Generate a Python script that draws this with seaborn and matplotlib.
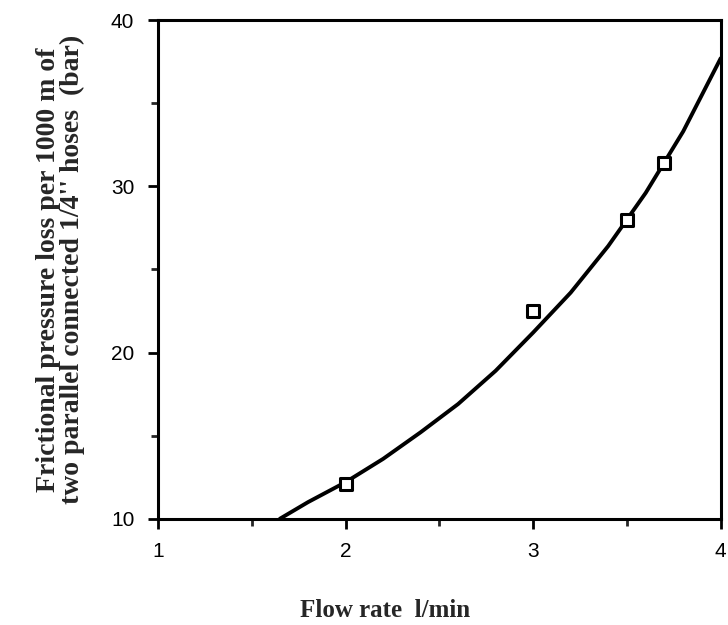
import numpy as np
import pandas as pd
import matplotlib
matplotlib.use("Agg")
import matplotlib.pyplot as plt
import seaborn as sns
from matplotlib.ticker import MultipleLocator

# fitted curve
curve_x = [1.65, 1.8, 2.0, 2.2, 2.4, 2.6, 2.8, 3.0, 3.2, 3.4, 3.6, 3.8, 4.0]
curve_y = [10.0, 11.0, 12.2, 13.6, 15.2, 16.9, 18.9, 21.2, 23.6, 26.4, 29.6, 33.3, 37.7]

# measured points
meas_x = [2.0, 3.0, 3.5, 3.7]
meas_y = [12.1, 22.5, 28.0, 31.4]

xticks = [1, 2, 3, 4]
yticks = [10, 20, 30, 40]

sns.set_style("ticks")
plt.rcParams['font.family'] = ['Liberation Sans', 'DejaVu Sans']

fig = plt.figure(figsize=(7.28, 6.25), dpi=100)
ax = fig.add_axes([0.217, 0.170, 0.773, 0.798])

curve = pd.DataFrame({'x': curve_x, 'y': curve_y})
meas = pd.DataFrame({'x': meas_x, 'y': meas_y})

sns.lineplot(data=curve, x='x', y='y', ax=ax, color='black', linewidth=2.8)
sns.scatterplot(data=meas, x='x', y='y', ax=ax, marker='s', s=80,
                facecolor='white', edgecolor='black', linewidth=2.2, zorder=5)

ax.set_xlim(1, 4)
ax.set_ylim(10, 40)
ax.set_xticks(xticks)
ax.set_yticks(yticks)
ax.xaxis.set_minor_locator(MultipleLocator(0.5))
ax.yaxis.set_minor_locator(MultipleLocator(5))

for s in ax.spines.values():
    s.set_linewidth(2.2)
    s.set_color('black')

ax.tick_params(axis='both', which='major', direction='out', length=7, width=2,
               labelsize=15, colors='black')
ax.tick_params(axis='both', which='minor', direction='out', length=5, width=2)
ax.tick_params(axis='x', which='major', pad=10)
ax.tick_params(axis='y', which='major', pad=10)

ax.set_xlabel("Flow rate  l/min", fontfamily='Liberation Serif', fontweight='bold',
              fontsize=18)
ax.xaxis.set_label_coords(0.403, -0.16)
ax.set_ylabel("Frictional pressure loss per 1000 m of\ntwo parallel connected 1/4'' hoses  (bar)",
              fontfamily='Liberation Serif', fontweight='bold', fontsize=20,
              linespacing=0.92)
ax.yaxis.set_label_coords(-0.13, 0.5)

fig.savefig("out.png", dpi=100)
